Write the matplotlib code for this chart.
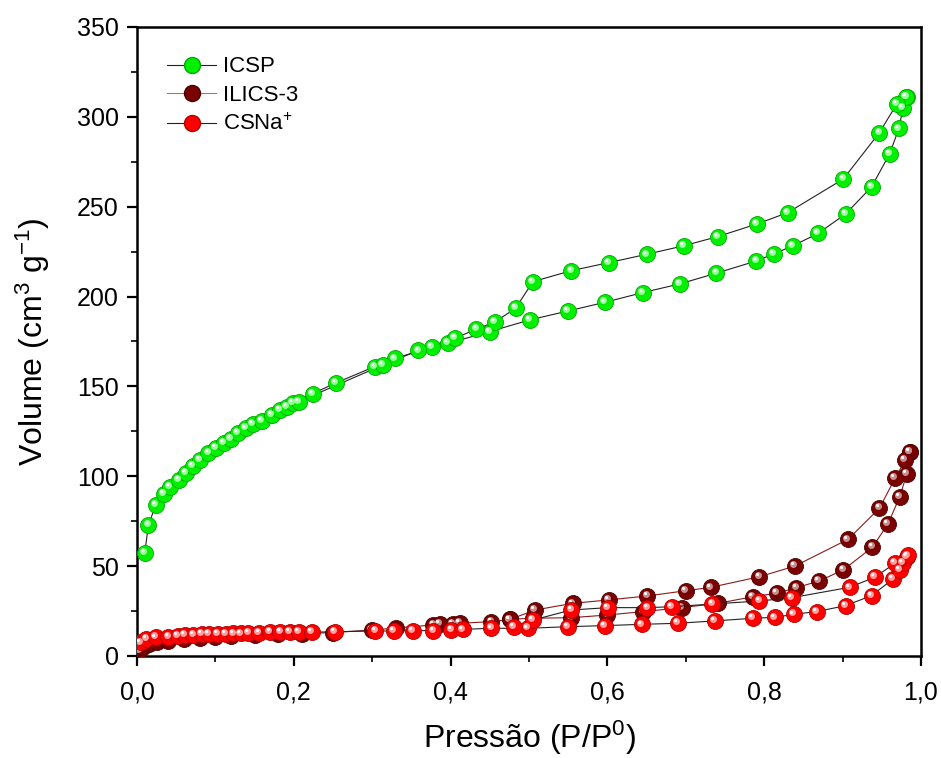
import numpy as np
import matplotlib
matplotlib.use('Agg')
import matplotlib.pyplot as plt
from matplotlib.transforms import offset_copy
from matplotlib.lines import Line2D
from matplotlib.ticker import MultipleLocator, FuncFormatter

plt.rcParams['font.family'] = ['Liberation Sans', 'DejaVu Sans']
plt.rcParams['mathtext.fontset'] = 'custom'
plt.rcParams['mathtext.rm'] = 'Liberation Sans'
plt.rcParams['mathtext.it'] = 'Liberation Sans:italic'

# ICSP
icsp_ads_x = [0.010, 0.0145, 0.024, 0.034, 0.042, 0.053, 0.0625, 0.071, 0.080, 0.091, 0.101,
              0.111, 0.120, 0.129, 0.139, 0.148, 0.159, 0.172, 0.182, 0.191, 0.199, 0.224,
              0.254, 0.303, 0.329, 0.376, 0.397, 0.450, 0.501, 0.550, 0.597, 0.645, 0.692,
              0.739, 0.790, 0.812, 0.837, 0.869, 0.904, 0.937, 0.960, 0.972, 0.977, 0.982]
icsp_ads_y = [57.5, 72.9, 84, 90, 94, 98, 102, 105.7, 109, 112.8, 116,
              118.7, 121, 124, 126.7, 129, 131, 134, 137, 138.7, 141, 146,
              152, 161, 165.6, 171.8, 174, 180.5, 187, 192, 196.8, 202.2, 207,
              213, 219.8, 223.7, 228.3, 235.2, 246, 261, 279.4, 293.6, 305, 311.3]
icsp_des_x = [0.981, 0.969, 0.947, 0.901, 0.830, 0.791, 0.741, 0.698, 0.650, 0.602, 0.554,
              0.505, 0.483, 0.457, 0.433, 0.406, 0.359, 0.314, 0.206]
icsp_des_y = [311, 307, 291.2, 265.4, 246.7, 240.4, 233.4, 228.3, 223.5, 218.9, 214.4,
              208.3, 193.5, 186, 181.8, 177, 170, 162, 141.5]

# ILICS-3
ilics_ads_x = [0.003, 0.008, 0.015, 0.025, 0.04, 0.06, 0.08, 0.10, 0.12, 0.15, 0.18, 0.21,
               0.25, 0.30, 0.33, 0.378, 0.386, 0.403, 0.412, 0.452, 0.476, 0.505, 0.554,
               0.600, 0.646, 0.695, 0.741, 0.786, 0.816, 0.841, 0.870, 0.901, 0.938, 0.958,
               0.973, 0.982, 0.986]
ilics_ads_y = [3, 5, 6.5, 7.5, 8.5, 9.3, 10, 10.5, 11, 11.5, 12, 12.5,
               13, 14.5, 15.5, 17.3, 17.8, 17.8, 18.2, 19.1, 20.4, 21, 21.3,
               22.8, 24.7, 26.9, 29.3, 33, 34.9, 38, 41.7, 47.9, 60.5, 73.5,
               88.7, 101.3, 113.5]
ilics_des_x = [0.986, 0.980, 0.967, 0.947, 0.907, 0.839, 0.794, 0.732, 0.700, 0.651, 0.602,
               0.556, 0.508, 0.476]
ilics_des_y = [113.5, 109, 98.9, 82.2, 64.9, 50, 44.1, 38.2, 36.3, 33.4, 31.2,
               29.3, 25.6, 20.4]

# CSNa+
csna_ads_x = [0.005, 0.012, 0.024, 0.040, 0.052, 0.061, 0.072, 0.083, 0.092, 0.103, 0.113,
              0.123, 0.133, 0.142, 0.156, 0.170, 0.183, 0.195, 0.206, 0.223, 0.252, 0.304,
              0.328, 0.352, 0.378, 0.401, 0.416, 0.452, 0.499, 0.550, 0.597, 0.644, 0.690,
              0.737, 0.786, 0.814, 0.838, 0.867, 0.904, 0.937, 0.964, 0.973, 0.977, 0.982]
csna_ads_y = [7.5, 9.3, 10.4, 10.8, 11.3, 11.7, 11.9, 12.1, 12.2, 12.2, 12.4,
              12.6, 12.6, 13, 13, 13.2, 13.2, 13.4, 13.4, 13.2, 13.5, 13.9,
              13.9, 14.1, 14.1, 14.5, 14.8, 15.4, 15.4, 16.3, 16.9, 17.6, 18.2,
              19.5, 21, 21.5, 23.2, 24.7, 28, 33.6, 42.7, 47.9, 51.6, 55.3]
csna_des_x = [0.983, 0.967, 0.941, 0.909, 0.835, 0.794, 0.734, 0.682, 0.651, 0.601, 0.554,
              0.505, 0.481]
csna_des_y = [56, 51.6, 43.8, 38.2, 32.4, 30.6, 28.9, 27.4, 26.9, 26.9, 25.6,
              20, 16]

fig = plt.figure(figsize=(9.41, 7.58), dpi=100)
ax = fig.add_axes([0.1456, 0.1346, 0.8331, 0.8298])

hl1 = offset_copy(ax.transData, fig=fig, x=-1.3, y=1.3, units='points')
hl2 = offset_copy(ax.transData, fig=fig, x=-2.0, y=2.0, units='points')


def sphere(x, y, color, edge, light, z):
    ax.plot(x, y, 'o', ms=11.5, mfc=color, mec=edge, mew=0.6, zorder=z, linestyle='none')
    ax.plot(x, y, 'o', ms=5, mfc=light, mec='none', transform=hl1, zorder=z + 0.1,
            linestyle='none')
    ax.plot(x, y, 'o', ms=2.2, mfc='white', mec='none', transform=hl2, zorder=z + 0.2,
            linestyle='none')


series = [
    (icsp_ads_x, icsp_ads_y, icsp_des_x, icsp_des_y, '#00f000', '#00a800', '#9dff9d', '#222222', 3),
    (ilics_ads_x, ilics_ads_y, ilics_des_x, ilics_des_y, '#7a0000', '#4a0000', '#c89090', '#8b1a1a', 5),
    (csna_ads_x, csna_ads_y, csna_des_x, csna_des_y, '#ff0000', '#b00000', '#ffa0a0', '#222222', 7),
]

for ax_, ay_, dx_, dy_, c, e, l, lc, z in series:
    ax.plot(ax_, ay_, '-', color=lc, lw=0.8, zorder=z - 1)
    ax.plot(dx_, dy_, '-', color=lc, lw=0.8, zorder=z - 1)
    sphere(ax_, ay_, c, e, l, z)
    sphere(dx_, dy_, c, e, l, z)

ax.set_xlim(0, 1.0)
ax.set_ylim(0, 350)
ax.xaxis.set_major_locator(MultipleLocator(0.2))
ax.xaxis.set_minor_locator(MultipleLocator(0.1))
ax.yaxis.set_major_locator(MultipleLocator(50))
ax.yaxis.set_minor_locator(MultipleLocator(25))
ax.xaxis.set_major_formatter(FuncFormatter(lambda v, p: ('%.1f' % v).replace('.', ',')))
ax.tick_params(which='major', direction='out', length=7, width=1.6, labelsize=18,
               top=False, right=False)
ax.tick_params(which='minor', direction='out', length=4, width=1.2, top=False, right=False)
ax.tick_params(axis='x', pad=11)
ax.tick_params(axis='y', pad=6)
for s in ax.spines.values():
    s.set_linewidth(1.8)

ax.set_xlabel('Pressão (P/P$^0$)', fontsize=23, labelpad=10)
ax.set_ylabel('Volume (cm$^3$ g$^{-1}$)', fontsize=23, labelpad=18)

handles = [
    Line2D([], [], color='#222222', lw=0.8, marker='o', ms=11.5, mfc='#00f000', mec='#00a800'),
    Line2D([], [], color='#b07070', lw=0.8, marker='o', ms=11.5, mfc='#7a0000', mec='#4a0000'),
    Line2D([], [], color='#222222', lw=0.8, marker='o', ms=11.5, mfc='#ff0000', mec='#b00000'),
]
ax.legend(handles, ['ICSP', 'ILICS-3', 'CSNa$^{+}$'], loc='upper left', frameon=False,
          fontsize=16, bbox_to_anchor=(0.013, 0.985), handlelength=2.2, handletextpad=0.3,
          labelspacing=0.35)

fig.savefig('out.png', dpi=100)
